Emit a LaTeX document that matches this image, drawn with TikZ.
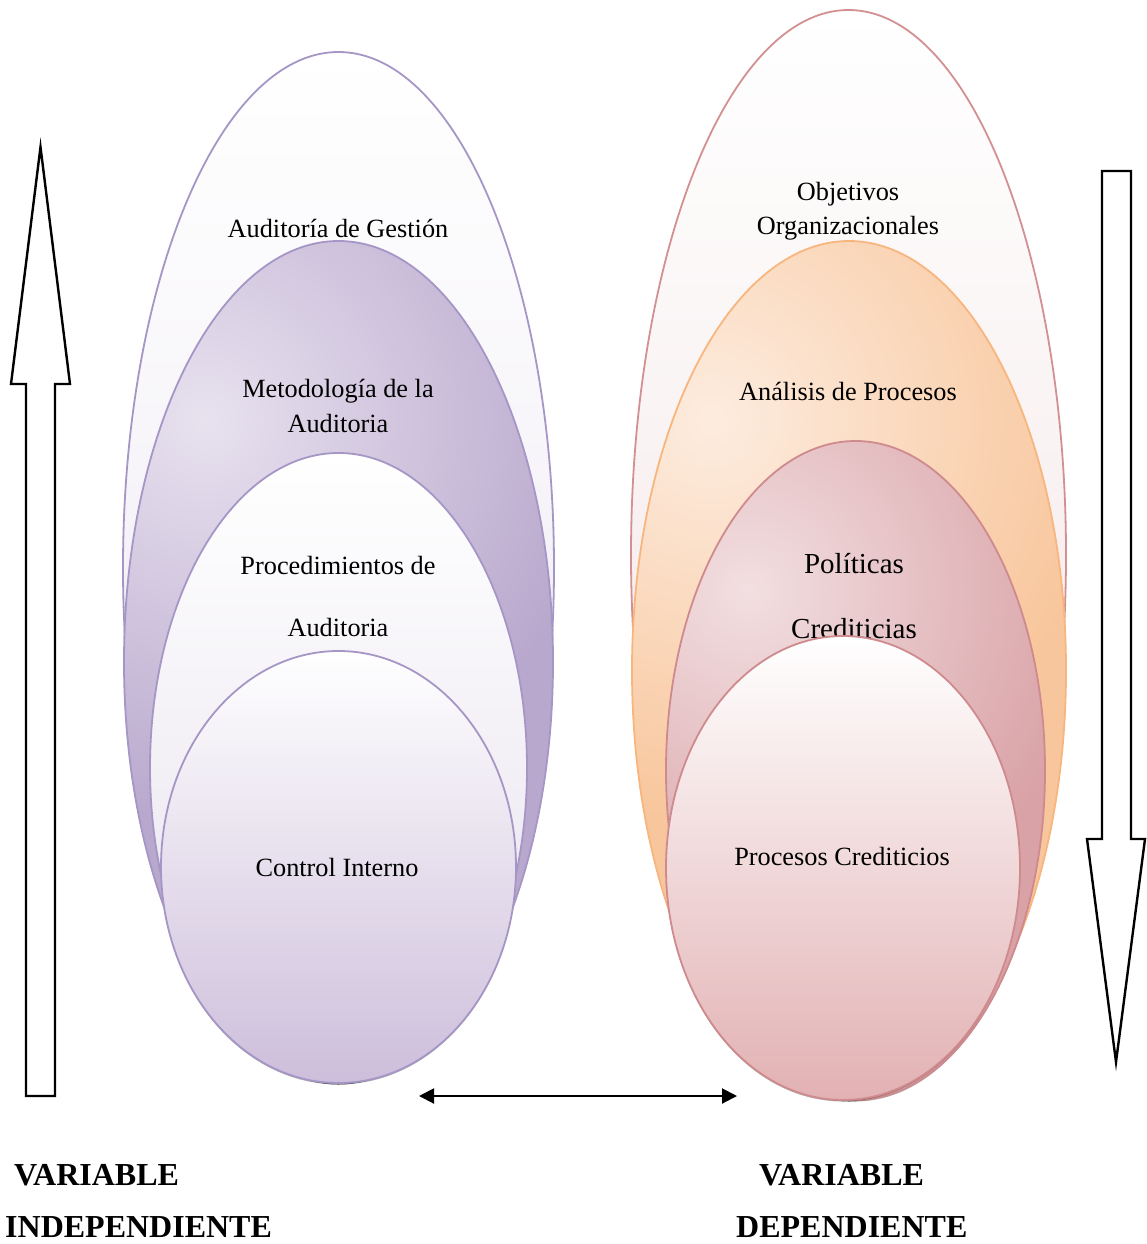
\documentclass[tikz,border=0pt]{standalone}
\usepackage{fontspec}
\setmainfont{Liberation Serif}
\usetikzlibrary{arrows.meta}

% purple family (independent variable)
\definecolor{pLine}{HTML}{A596C6}
\definecolor{pPale}{HTML}{EBE6F0}
\definecolor{pLight}{HTML}{E8E2EF}
\definecolor{pDark}{HTML}{B9A8CD}
\definecolor{pMid}{HTML}{E6E0EC}
\definecolor{pDeep}{HTML}{CDBEDB}
% red / orange family (dependent variable)
\definecolor{rLine}{HTML}{D39092}
\definecolor{rPale}{HTML}{F1E0E1}
\definecolor{oLine}{HTML}{F8B67F}
\definecolor{oLight}{HTML}{FDECDF}
\definecolor{oDark}{HTML}{F8C69C}
\definecolor{kLine}{HTML}{CF8A8E}
\definecolor{kLight}{HTML}{F2DFE1}
\definecolor{kDark}{HTML}{D9A2A6}
\definecolor{kDeep}{HTML}{E2B1B3}

\tikzset{
  ring/.style={line width=1.8pt},
  shadowring/.style={fill=black, opacity=0.3},
  lbl/.style={font=\fontsize{26.3}{34.5}\selectfont, align=center, inner sep=0pt},
  biglbl/.style={font=\fontsize{29}{65}\selectfont, align=center, inner sep=0pt},
  varlbl/.style={font=\fontsize{32}{36}\selectfont\bfseries, inner sep=0pt, anchor=west},
  blockarrow/.style={draw=black, fill=white, line width=2.4pt, line join=miter},
  link/.style={line width=2pt, {Triangle[length=15pt,width=15pt]}-{Triangle[length=15pt,width=15pt]}}
}

\begin{document}
\begin{tikzpicture}[x=1pt,y=-1pt]
\useasboundingbox (0,0) rectangle (1147,1244);

% ---------------- left nest ----------------
% outer ring
\fill[shadowring] (338.5,569) ellipse (215.5 and 515.5);
\shade[top color=white, bottom color=pPale] (338.5,567.5) ellipse (215.5 and 515.5);
\draw[ring, pLine] (338.5,567.5) ellipse (215.5 and 515.5);
\node[lbl] (gestion) at (338,228) {Auditoría de Gestión};

% second ring, light in the upper left and darker towards the rim
\fill[shadowring] (338.5,663.5) ellipse (214.5 and 421);
\begin{scope}
  \clip (338.5,662) ellipse (214.5 and 421);
  \fill[pDark] (338.5,662) ellipse (214.5 and 421);
  \shade[inner color=pLight, outer color=pDark] (205,420) circle (400);
\end{scope}
\draw[ring, pLine] (338.5,662) ellipse (214.5 and 421);
\node[lbl] (metodo) at (338,406) {Metodología de la\\Auditoria};

% third ring
\fill[shadowring] (338.5,769.5) ellipse (188.5 and 315);
\shade[top color=white, bottom color=pMid] (338.5,768) ellipse (188.5 and 315);
\draw[ring, pLine] (338.5,768) ellipse (188.5 and 315);
\node[lbl, font=\fontsize{26.3}{62}\selectfont] (proced) at (338,596) {Procedimientos de\\Auditoria};

% inner ring
\fill[shadowring] (338.5,868.5) ellipse (177.5 and 216);
\shade[top color=white, bottom color=pDeep] (338.5,867) ellipse (177.5 and 216);
\draw[ring, pLine] (338.5,867) ellipse (177.5 and 216);
\node[lbl] (control) at (337,867) {Control Interno};

% ---------------- right nest ----------------
% outer ring
\fill[shadowring] (848.5,556.5) ellipse (217.5 and 545);
\shade[top color=white, bottom color=rPale] (848.5,555) ellipse (217.5 and 545);
\draw[ring, rLine] (848.5,555) ellipse (217.5 and 545);
\node[lbl] (objet) at (848,211) {Objetivos\\Organizacionales};

% second ring
\fill[shadowring] (849,672) ellipse (217 and 429.5);
\begin{scope}
  \clip (849,670.5) ellipse (217 and 429.5);
  \fill[oDark] (849,670.5) ellipse (217 and 429.5);
  \shade[inner color=oLight, outer color=oDark] (712,420) circle (400);
\end{scope}
\draw[ring, oLine] (849,670.5) ellipse (217 and 429.5);
\node[lbl] (analisis) at (848,391) {Análisis de Procesos};

% third ring
\fill[shadowring] (855.5,772) ellipse (189.5 and 329.5);
\begin{scope}
  \clip (855.5,770.5) ellipse (189.5 and 329.5);
  \fill[kDark] (855.5,770.5) ellipse (189.5 and 329.5);
  \shade[inner color=kLight, outer color=kDark] (748,590) circle (350);
\end{scope}
\draw[ring, kLine] (855.5,770.5) ellipse (189.5 and 329.5);
\node[biglbl] (politicas) at (854,596) {Políticas\\Crediticias};

% inner ring
\fill[shadowring] (843,869.5) ellipse (177 and 232);
\shade[top color=white, bottom color=kDeep] (843,868) ellipse (177 and 232);
\draw[ring, kLine] (843,868) ellipse (177 and 232);
\node[lbl] (procesos) at (842,856) {Procesos Crediticios};

% ---------------- block arrows ----------------
\draw[blockarrow] (26,1096) -- (26,384) -- (11,384) -- (40.5,147) -- (70,384)
  -- (55,384) -- (55,1096) -- cycle;
\draw[blockarrow] (1102,171) -- (1131,171) -- (1131,839) -- (1145,839)
  -- (1116,1062) -- (1087,839) -- (1102,839) -- cycle;

% ---------------- link between the nests ----------------
\coordinate (linkL) at (419,1096);
\coordinate (linkR) at (737,1096);
\draw[link] (linkL) -- (linkR);

% ---------------- variable captions ----------------
\node[varlbl] (var1) at (14,1175) {VARIABLE};
\node[varlbl] (indep) at (5,1227) {INDEPENDIENTE};
\node[varlbl] (var2) at (759,1175) {VARIABLE};
\node[varlbl] (dep) at (736,1227) {DEPENDIENTE};
\end{tikzpicture}
\end{document}
